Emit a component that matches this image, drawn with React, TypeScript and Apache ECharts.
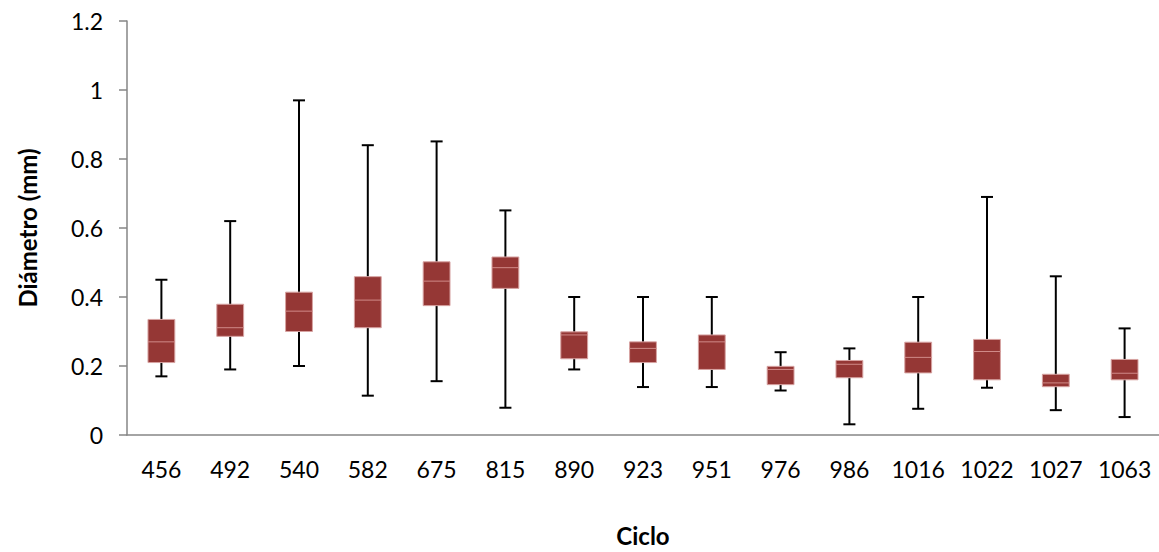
import React, { useEffect, useRef } from "react";
import * as echarts from "echarts";

const categories = ["456", "492", "540", "582", "675", "815", "890", "923", "951", "976", "986", "1016", "1022", "1027", "1063"];
const whiskerLow = [0.17, 0.19, 0.2, 0.114, 0.156, 0.079, 0.19, 0.139, 0.139, 0.129, 0.031, 0.076, 0.137, 0.072, 0.052];
const q1 = [0.21, 0.286, 0.3, 0.311, 0.375, 0.425, 0.221, 0.21, 0.19, 0.146, 0.166, 0.18, 0.16, 0.14, 0.16];
const median = [0.27, 0.311, 0.359, 0.391, 0.446, 0.485, 0.29, 0.251, 0.27, 0.19, 0.205, 0.225, 0.242, 0.151, 0.179];
const q3 = [0.335, 0.379, 0.414, 0.459, 0.502, 0.516, 0.299, 0.27, 0.29, 0.199, 0.216, 0.269, 0.277, 0.176, 0.219];
const whiskerHigh = [0.45, 0.62, 0.97, 0.84, 0.851, 0.651, 0.4, 0.4, 0.4, 0.24, 0.251, 0.4, 0.69, 0.46, 0.309];
const yTicks = { min: 0, max: 1.2, interval: 0.2 };

export default function App() {
  const ref = useRef<HTMLDivElement>(null);
  useEffect(() => {
    if (!ref.current) return;
    const chart = echarts.init(ref.current, undefined, { renderer: "svg" });
    const data = categories.map((c, i) => [i, whiskerLow[i], q1[i], median[i], q3[i], whiskerHigh[i]]);
    const font = "Lato, 'Open Sans', sans-serif";
    chart.setOption({
      animation: false,
      grid: { left: 127, top: 21, width: 1035, height: 420, containLabel: false },
      xAxis: {
        type: "category",
        data: categories,
        boundaryGap: true,
        name: "Ciclo",
        nameLocation: "middle",
        nameGap: 88,
        nameTextStyle: { fontFamily: font, fontSize: 24, fontWeight: "bold", color: "#000" },
        axisLine: { lineStyle: { color: "#868686", width: 1.5 } },
        axisTick: { length: 8, lineStyle: { color: "#868686", width: 1.5 }, alignWithLabel: false },
        axisLabel: { fontFamily: font, fontSize: 23, color: "#000", margin: 22, interval: 0 },
        splitLine: { show: false },
      },
      yAxis: {
        type: "value",
        min: yTicks.min,
        max: yTicks.max,
        interval: yTicks.interval,
        name: "Diámetro (mm)",
        nameLocation: "middle",
        nameGap: 88,
        nameTextStyle: { fontFamily: font, fontSize: 24, fontWeight: "bold", color: "#000" },
        axisLine: { show: true, lineStyle: { color: "#868686", width: 1.5 } },
        axisTick: { show: true, length: 8, lineStyle: { color: "#868686", width: 1.5 } },
        axisLabel: { fontFamily: font, fontSize: 23, color: "#000", margin: 24 },
        splitLine: { show: false },
      },
      series: [
        {
          type: "custom",
          data,
          encode: { x: 0, y: [1, 2, 3, 4, 5] },
          renderItem: (params: any, api: any) => {
            const idx = api.value(0);
            const band = api.size([1, 0])[0];
            const pLow = api.coord([idx, api.value(1)]);
            const pQ1 = api.coord([idx, api.value(2)]);
            const pMed = api.coord([idx, api.value(3)]);
            const pQ3 = api.coord([idx, api.value(4)]);
            const pHigh = api.coord([idx, api.value(5)]);
            const x = pLow[0];
            const bw = band * 0.39;
            const cw = band * 0.175;
            const wStyle = { stroke: "#000", lineWidth: 2 };
            return {
              type: "group",
              children: [
                { type: "line", shape: { x1: x, y1: pHigh[1], x2: x, y2: pLow[1] }, style: wStyle },
                { type: "line", shape: { x1: x - cw / 2, y1: pHigh[1], x2: x + cw / 2, y2: pHigh[1] }, style: wStyle },
                { type: "line", shape: { x1: x - cw / 2, y1: pLow[1], x2: x + cw / 2, y2: pLow[1] }, style: wStyle },
                {
                  type: "rect",
                  shape: { x: x - bw / 2, y: pQ3[1], width: bw, height: pQ1[1] - pQ3[1] },
                  style: { fill: "#953735", stroke: "#d7a3a2", lineWidth: 1 },
                },
                {
                  type: "line",
                  shape: { x1: x - bw / 2, y1: pMed[1], x2: x + bw / 2, y2: pMed[1] },
                  style: { stroke: "#d08a88", lineWidth: 1 },
                },
              ],
            };
          },
        },
      ],
    });
    return () => chart.dispose();
  }, []);
  return <div ref={ref} style={{ width: 1159, height: 552, position: "absolute", left: 0, top: 0 }} />;
}
